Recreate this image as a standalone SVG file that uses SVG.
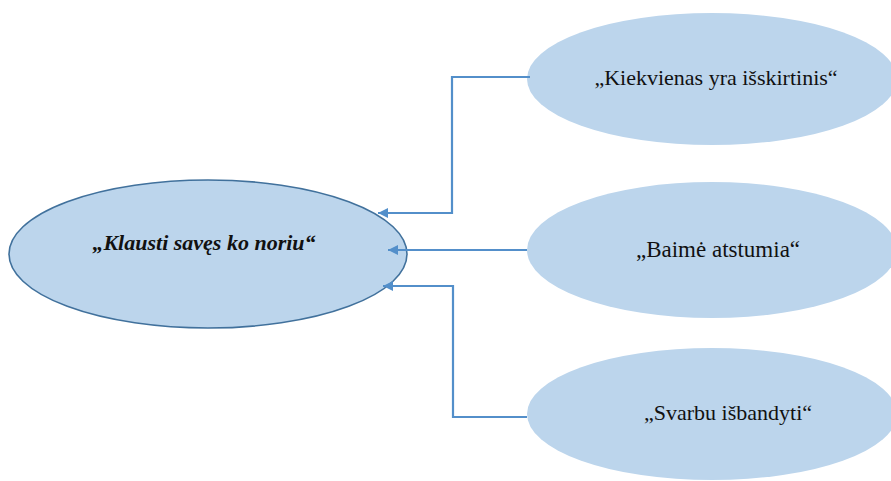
<svg xmlns="http://www.w3.org/2000/svg" width="891" height="481" viewBox="0 0 891 481">
  <style>
    .bubble { fill: #bcd5ec; }
    .main { stroke: #41719c; stroke-width: 1.6; }
    .label { font-family: "Liberation Serif", "Times New Roman", serif; font-size: 22px; fill: #111; text-anchor: middle; }
    .title { font-weight: bold; font-style: italic; }
    .link { fill: none; stroke: #538fca; stroke-width: 2.2; }
  </style>
  <defs>
    <marker id="tip" viewBox="0 0 10 10" refX="10" refY="5" markerWidth="12" markerHeight="10" markerUnits="userSpaceOnUse" orient="auto">
      <path d="M0,0 L10,5 L0,10 Z" fill="#538fca"/>
    </marker>
  </defs>
  <rect width="891" height="481" fill="#ffffff"/>

  <g id="node-center">
    <ellipse class="bubble main" cx="208" cy="254" rx="199" ry="74"/>
    <text class="label title" x="204" y="250">„Klausti savęs ko noriu“</text>
  </g>

  <g id="node-unique">
    <ellipse class="bubble" cx="712" cy="79" rx="185" ry="66"/>
    <text class="label" x="716" y="85">„Kiekvienas yra išskirtinis“</text>
  </g>

  <g id="node-fear">
    <ellipse class="bubble" cx="712" cy="250" rx="185" ry="68"/>
    <text class="label" x="718" y="257" style="font-size:23px">„Baimė atstumia“</text>
  </g>

  <g id="node-try">
    <ellipse class="bubble" cx="712" cy="414" rx="185" ry="66"/>
    <text class="label" x="728" y="420">„Svarbu išbandyti“</text>
  </g>

  <g id="connectors">
    <path class="link" d="M530,77 H452 V213 H378" marker-end="url(#tip)"/>
    <path class="link" d="M527,250 H388" marker-end="url(#tip)"/>
    <path class="link" d="M527,417 H453 V286 H383" marker-end="url(#tip)"/>
  </g>
</svg>
